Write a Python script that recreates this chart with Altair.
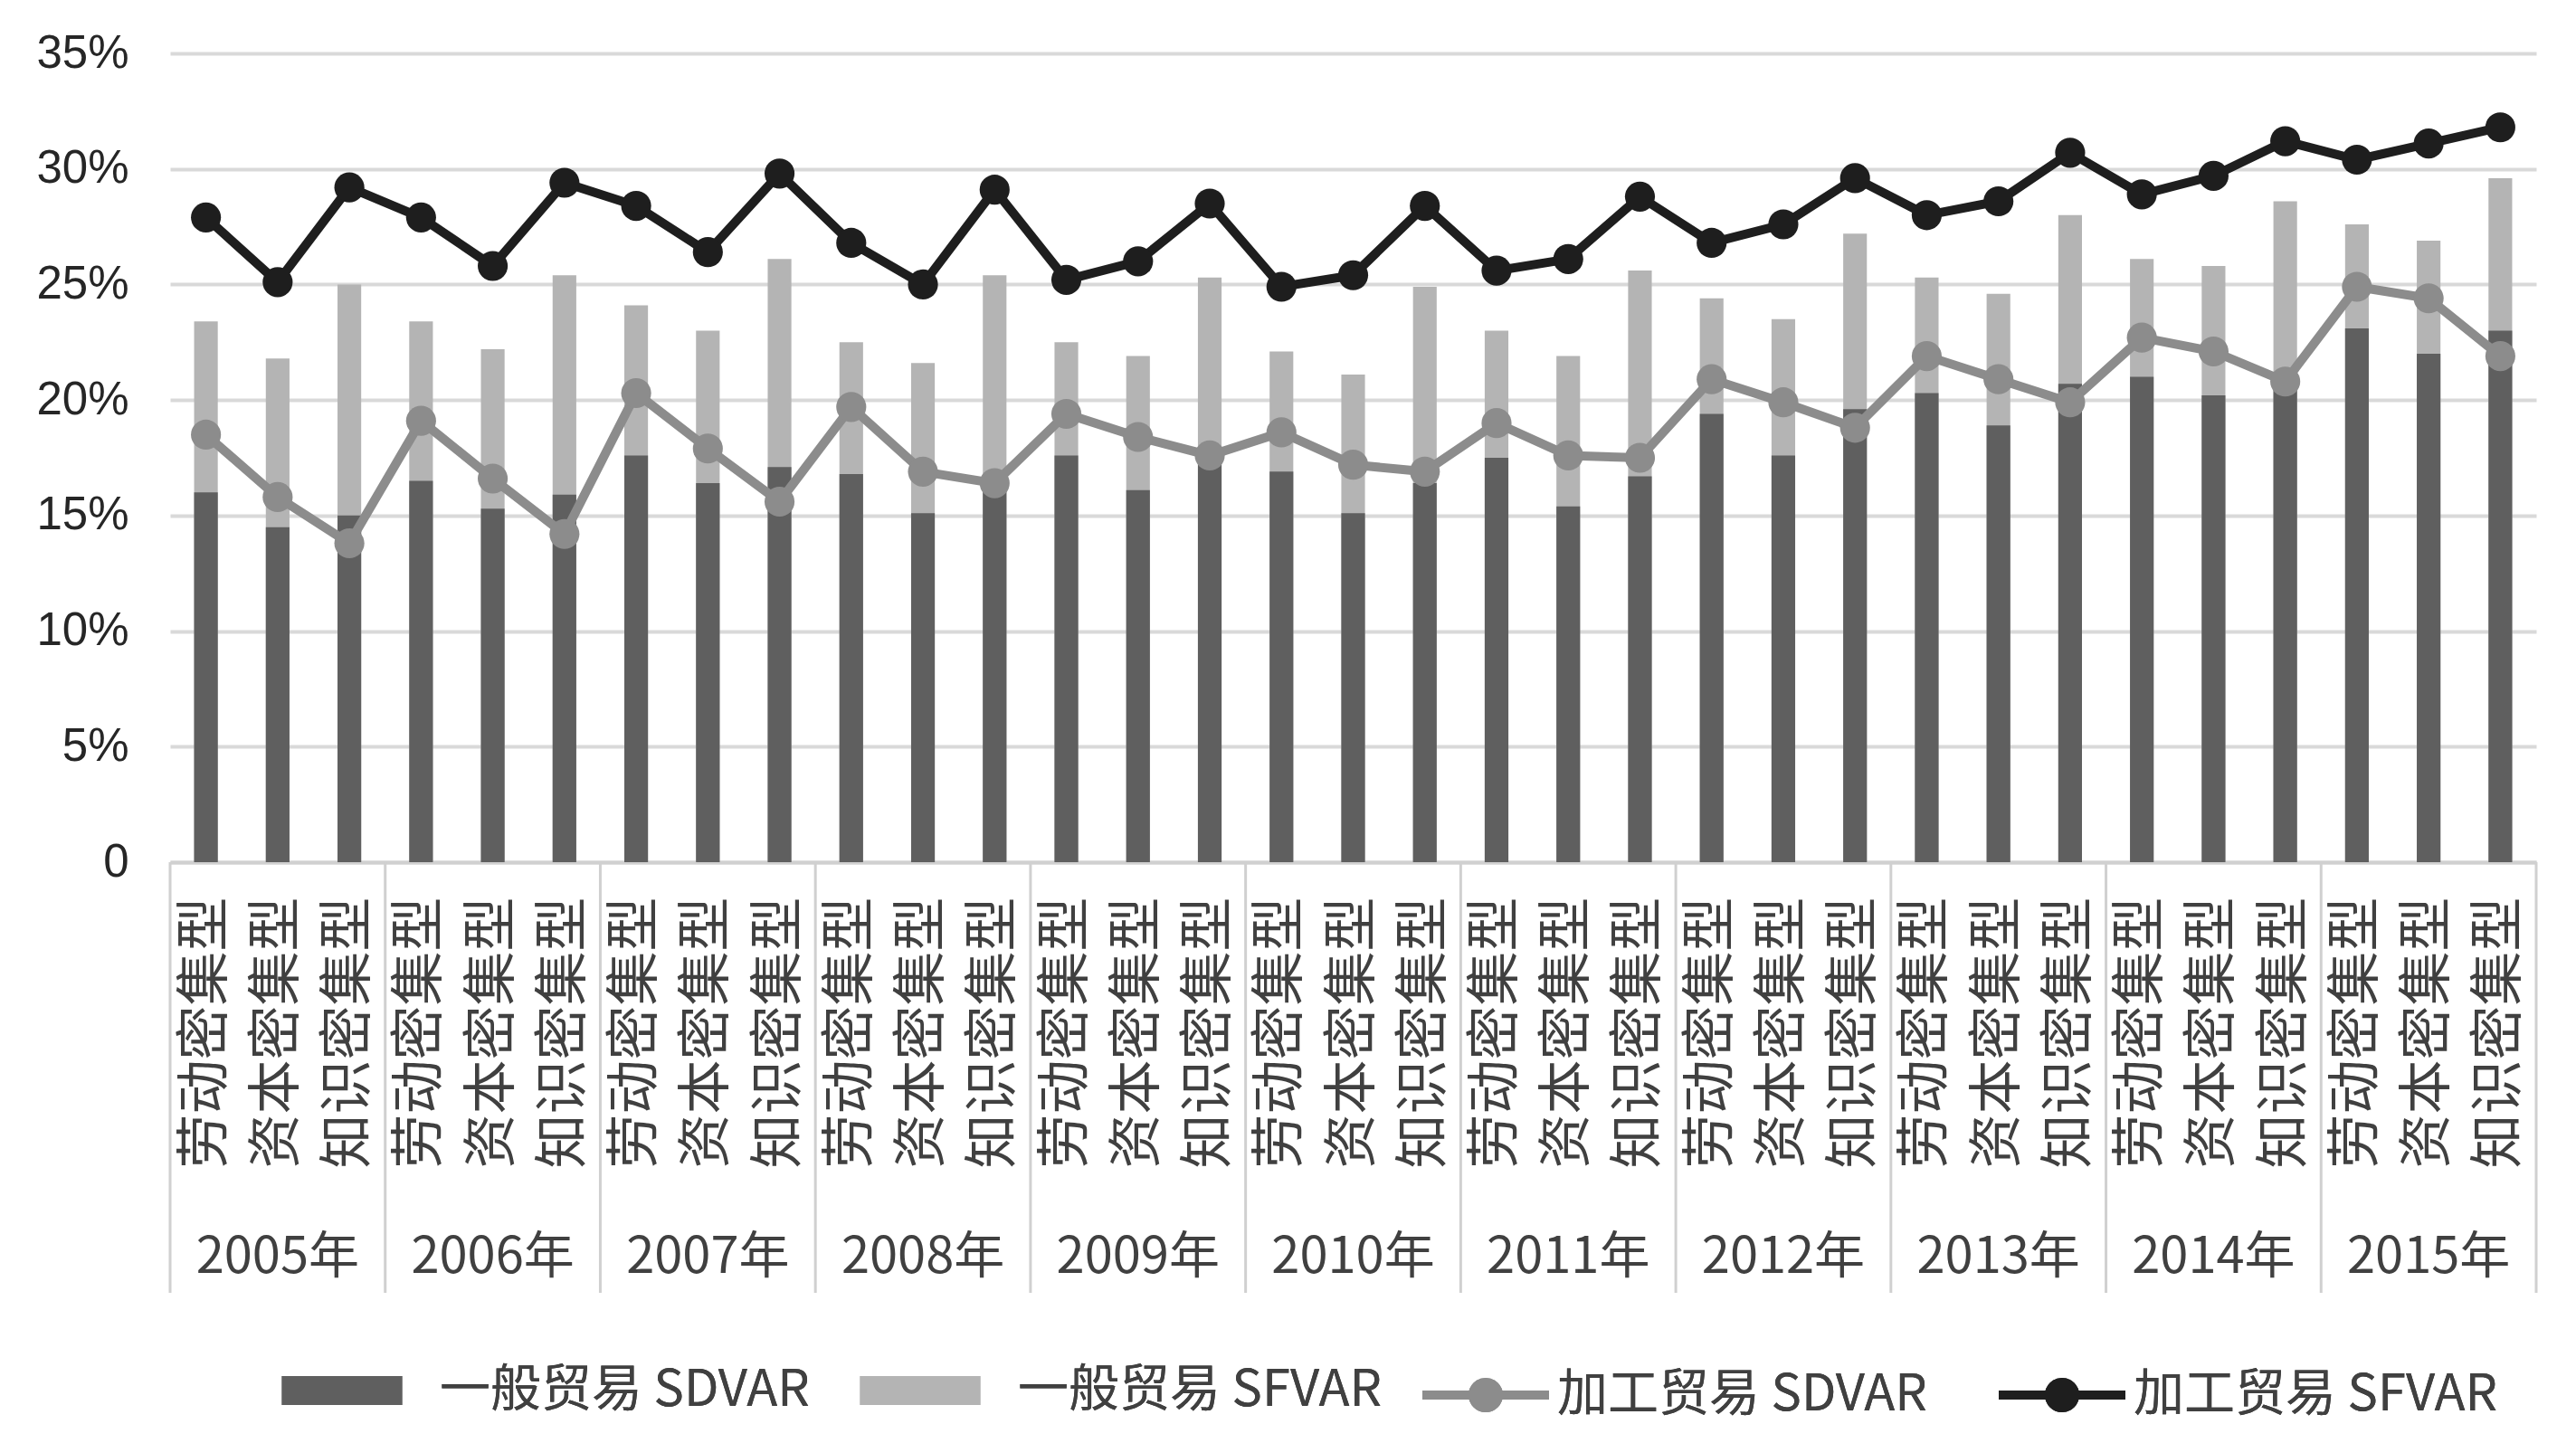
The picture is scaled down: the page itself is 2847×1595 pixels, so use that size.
import altair as alt
import pandas as pd

years = ["2005年", "2006年", "2007年", "2008年", "2009年", "2010年",
         "2011年", "2012年", "2013年", "2014年", "2015年"]
types = ["劳动密集型", "资本密集型", "知识密集型"]

S1 = "一般贸易 SDVAR"
S2 = "一般贸易 SFVAR"
S3 = "加工贸易 SDVAR"
S4 = "加工贸易 SFVAR"

# values in percent, ordered year by year, 劳动 / 资本 / 知识
gen_sdvar = [16.0, 14.5, 15.0, 16.5, 15.3, 15.9, 17.6, 16.4, 17.1, 16.8, 15.1, 16.1,
             17.6, 16.1, 17.2, 16.9, 15.1, 16.4, 17.5, 15.4, 16.7, 19.4, 17.6, 19.6,
             20.3, 18.9, 20.7, 21.0, 20.2, 20.6, 23.1, 22.0, 23.0]
gen_sfvar = [23.4, 21.8, 25.0, 23.4, 22.2, 25.4, 24.1, 23.0, 26.1, 22.5, 21.6, 25.4,
             22.5, 21.9, 25.3, 22.1, 21.1, 24.9, 23.0, 21.9, 25.6, 24.4, 23.5, 27.2,
             25.3, 24.6, 28.0, 26.1, 25.8, 28.6, 27.6, 26.9, 29.6]
proc_sdvar = [18.5, 15.8, 13.8, 19.1, 16.6, 14.2, 20.3, 17.9, 15.6, 19.7, 16.9, 16.4,
              19.4, 18.4, 17.6, 18.6, 17.2, 16.9, 19.0, 17.6, 17.5, 20.9, 19.9, 18.8,
              21.9, 20.9, 19.9, 22.7, 22.1, 20.8, 24.9, 24.4, 21.9]
proc_sfvar = [27.9, 25.1, 29.2, 27.9, 25.8, 29.4, 28.4, 26.4, 29.8, 26.8, 25.0, 29.1,
              25.2, 26.0, 28.5, 24.9, 25.4, 28.4, 25.6, 26.1, 28.8, 26.8, 27.6, 29.6,
              28.0, 28.6, 30.7, 28.9, 29.7, 31.2, 30.4, 31.1, 31.8]

series_data = {S1: gen_sdvar, S2: gen_sfvar, S3: proc_sdvar, S4: proc_sfvar}

ids = []
rows = []
for i, yr in enumerate(years):
    for j, tp in enumerate(types):
        k = i * 3 + j
        bid = f"{yr}|{tp}"
        ids.append(bid)
        for s, vals in series_data.items():
            rows.append({"id": bid, "year": yr, "type": tp, "series": s, "value": vals[k]})
df = pd.DataFrame(rows)
cats = df[df["series"] == S1][["id", "year", "type"]].reset_index(drop=True)

PW, PH = 2615, 894
FONT_CJK = "Noto Sans CJK SC"
TXT = "#404040"

x_axis = alt.Axis(
    title=None,
    labelExpr="split(datum.label, '|')[1]",
    labelAngle=-90, labelAlign="right", labelBaseline="middle",
    labelFont=FONT_CJK, labelFontSize=60, labelLimit=1000,
    labelColor=TXT, labelPadding=38, ticks=False,
    domainColor="#d0d0d0", domainWidth=4, grid=False, labelOverlap=False,
)
x_scale = alt.Scale(paddingInner=0, paddingOuter=0)


def X(**kw):
    return alt.X("id:N", sort=ids, scale=x_scale, axis=x_axis, **kw)


y_enc = alt.Y(
    "value:Q",
    scale=alt.Scale(domain=[0, 35], nice=False),
    axis=alt.Axis(
        title=None, values=[0, 5, 10, 15, 20, 25, 30, 35],
        labelExpr="datum.value == 0 ? '0' : datum.value + '%'",
        labelFont="Liberation Sans", labelFontSize=51, labelColor="#262626",
        labelPadding=46, ticks=False, domain=False,
        gridColor="#d9d9d9", gridWidth=4,
    ),
)

fill_enc = alt.Fill(
    "series:N",
    scale=alt.Scale(domain=[S1, S2], range=["#5f5f5f", "#b4b4b4"]),
    legend=alt.Legend(
        title=None, orient="none", legendX=120, legendY=1408,
        direction="horizontal", columns=2,
        symbolType="M-0.95,-0.23H0.95V0.23H-0.95Z", symbolSize=19600,
        symbolStrokeWidth=0,
        labelFont=FONT_CJK, labelFontSize=56, labelColor=TXT,
        labelOffset=38, columnPadding=52, labelLimit=1000,
    ),
)

ring = ("M-1,0H1"
        "M0.07,0A0.07,0.07 0 1,1 -0.07,0A0.07,0.07 0 1,1 0.07,0Z"
        "M0.14,0A0.14,0.14 0 1,1 -0.14,0A0.14,0.14 0 1,1 0.14,0Z"
        "M0.2,0A0.2,0.2 0 1,1 -0.2,0A0.2,0.2 0 1,1 0.2,0Z")

color_enc = alt.Color(
    "series:N",
    scale=alt.Scale(domain=[S3, S4], range=["#8c8c8c", "#1e1e1e"]),
    legend=alt.Legend(
        title=None, orient="none", legendX=1379, legendY=1408,
        direction="horizontal", columns=2,
        symbolType=ring, symbolSize=19600, symbolStrokeWidth=10,
        labelFont=FONT_CJK, labelFontSize=56, labelColor=TXT,
        labelOffset=4, columnPadding=59, labelLimit=1000,
    ),
)

base = alt.Chart(df)

light = base.transform_filter(alt.datum.series == S2).mark_bar(
    width=alt.RelativeBandSize(0.33)
).encode(x=X(), y=y_enc, fill=fill_enc)

dark = base.transform_filter(alt.datum.series == S1).mark_bar(
    width=alt.RelativeBandSize(0.33)
).encode(x=X(), y=y_enc, fill=fill_enc)

grey_line = base.transform_filter(alt.datum.series == S3).mark_line(
    strokeWidth=10, point=alt.OverlayMarkDef(filled=True, size=1100, opacity=1)
).encode(x=X(), y=y_enc, color=color_enc)

black_line = base.transform_filter(alt.datum.series == S4).mark_line(
    strokeWidth=10, point=alt.OverlayMarkDef(filled=True, size=1100, opacity=1)
).encode(x=X(), y=y_enc, color=color_enc)

sep_data = alt.Chart(cats)
sep_start = sep_data.transform_filter(alt.datum.type == types[0]).mark_rule(
    color="#d0d0d0", strokeWidth=3
).encode(x=X(bandPosition=0), y=alt.value(PH), y2=alt.value(PH + 476))

sep_end = sep_data.transform_filter(
    (alt.datum.type == types[2]) & (alt.datum.year == years[-1])
).mark_rule(color="#d0d0d0", strokeWidth=3).encode(
    x=X(bandPosition=1), y=alt.value(PH), y2=alt.value(PH + 476))

year_text = sep_data.transform_filter(alt.datum.type == types[1]).mark_text(
    font=FONT_CJK, fontSize=56, color=TXT, baseline="middle", align="center"
).encode(x=X(), y=alt.value(PH + 437), text="year:N")

chart = alt.layer(
    light, dark, grey_line, black_line, sep_start, sep_end, year_text
).resolve_scale(fill="independent", color="independent").properties(
    width=PW, height=PH,
    autosize=alt.AutoSizeParams(type="none"),
    padding={"left": 180, "top": 51, "right": 30, "bottom": 620},
    background="white",
).configure_view(stroke=None)

chart.save("out.html", embed_options={"renderer": "svg", "actions": False})
